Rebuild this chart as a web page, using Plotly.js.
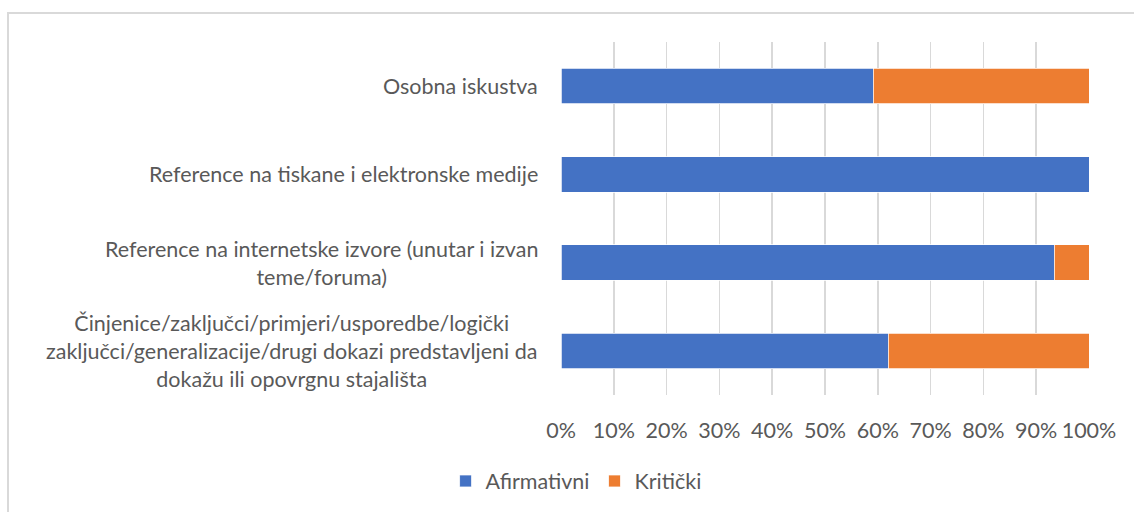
<!DOCTYPE html>
<html><head><meta charset="utf-8">
<script src="https://cdn.plot.ly/plotly-3.0.1.min.js"></script>
<style>
html,body{margin:0;padding:0;background:#fff;overflow:hidden}
#frame{position:absolute;left:7px;top:12px;width:1140px;height:520px;border:2px solid #d9d9d9;box-sizing:border-box}
#chart{position:absolute;left:0;top:0;width:1134px;height:512px}
</style></head>
<body>
<div id="frame"></div>
<div id="chart"></div>
<script>
const categories = [
  "Osobna iskustva",
  "Reference na tiskane i elektronske medije",
  "Reference na internetske izvore (unutar i izvan<br>teme/foruma)",
  "Činjenice/zaključci/primjeri/usporedbe/logički<br>zaključci/generalizacije/drugi dokazi predstavljeni da<br>dokažu ili opovrgnu stajališta"
];
const afirmativni = [59.1, 100, 93.4, 62.0];
const kriticki = [40.9, 0, 6.6, 38.0];
const tickVals = [0,10,20,30,40,50,60,70,80,90,100];
const tickText = ["0%","10%","20%","30%","40%","50%","60%","70%","80%","90%","100%"];

const FONT = "Lato, 'Open Sans', sans-serif";
const FS = 21.5;
const traces = [
  {type:'bar', orientation:'h', name:'Afirmativni', y:categories, x:afirmativni,
   marker:{color:'#4472C4', line:{color:'#ffffff', width:0.75}}, hoverinfo:'x+y'},
  {type:'bar', orientation:'h', name:'Kritički', y:categories, x:kriticki,
   marker:{color:'#ED7D31', line:{color:'#ffffff', width:0.75}}, hoverinfo:'x+y'}
];
const annotations = categories.map(c => ({
  xref:'paper', yref:'y', x:0, y:c, xshift:-21, xanchor:'right', yanchor:'middle',
  align:'center', text:c, showarrow:false, font:{family:FONT, size:FS, color:'#595959'}
}));
const layout = {
  width:1134, height:512, barmode:'stack', bargap:0.6,
  paper_bgcolor:'rgba(0,0,0,0)', plot_bgcolor:'rgba(0,0,0,0)',
  margin:{l:561, r:44.5, t:42, b:117},
  font:{family:FONT, size:FS, color:'#595959'},
  xaxis:{range:[0,100], tickvals:tickVals, ticktext:tickText, showgrid:true,
         gridcolor:'#d9d9d9', gridwidth:1.5, zeroline:false, showline:false,
         ticks:'', ticklabelstandoff:20, tickfont:{family:FONT, size:FS, color:'#595959'}, fixedrange:true},
  yaxis:{type:'category', autorange:'reversed', showticklabels:false, showgrid:false,
         zeroline:false, showline:false, ticks:'', fixedrange:true},
  showlegend:true,
  legend:{orientation:'h', xref:'container', yref:'container', x:0.508, xanchor:'center',
          y:1-481/512, yanchor:'middle', font:{family:FONT, size:FS, color:'#595959'},
          traceorder:'normal', itemwidth:30},
  annotations:annotations
};
Plotly.newPlot('chart', traces, layout, {displayModeBar:false, staticPlot:true});
</script>
</body></html>
